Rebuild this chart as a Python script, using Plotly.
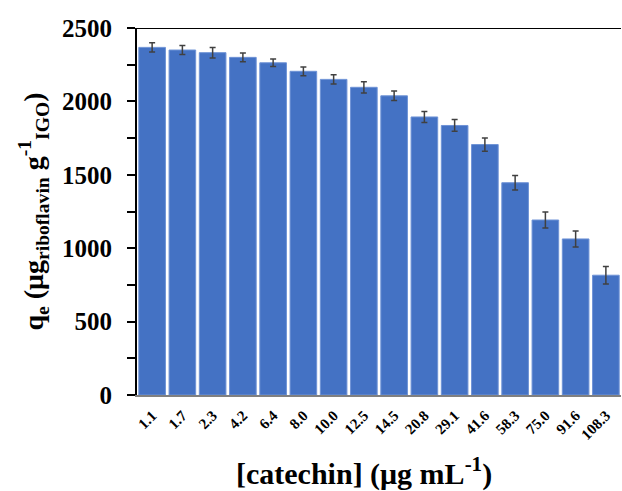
import plotly.graph_objects as go

categories = ["1.1", "1.7", "2.3", "4.2", "6.4", "8.0", "10.0", "12.5", "14.5",
              "20.8", "29.1", "41.6", "58.3", "75.0", "91.6", "108.3"]
qe_values = [2368, 2350, 2332, 2300, 2263, 2205, 2150, 2096, 2038,
             1894, 1836, 1706, 1446, 1192, 1063, 816]
qe_errors = [32, 30, 36, 30, 25, 30, 32, 38, 32, 38, 40, 45, 50, 55, 55, 60]
y_ticks = [0, 500, 1000, 1500, 2000, 2500]

FONT = "Liberation Serif"

fig = go.Figure(go.Bar(
    x=categories, y=qe_values,
    marker=dict(color="#4472C4", line=dict(color="#6F93D6", width=1)),
    error_y=dict(type="data", array=qe_errors, color="#404040", thickness=1.5, width=3),
))

fig.update_layout(
    width=622, height=491,
    margin=dict(l=137, r=1, t=28, b=96),
    plot_bgcolor="white", paper_bgcolor="white",
    bargap=0.12,
    showlegend=False,
    font=dict(family=FONT, color="black"),
)

fig.update_yaxes(
    range=[0, 2500], tickvals=y_ticks,
    ticks="outside", ticklen=8, tickwidth=2, tickcolor="black",
    minor=dict(ticks="outside", dtick=250, ticklen=8, tickwidth=2, tickcolor="black"),
    showline=True, linecolor="black", linewidth=2,
    showgrid=False, zeroline=False,
    tickfont=dict(family=FONT, size=25, weight="bold", color="black"),
    ticklabelstandoff=10,
    title=dict(text="q<sub>e</sub> (μg<sub>riboflavin</sub> g<sup>-1</sup><sub>IGO</sub>)",
               font=dict(family=FONT, size=28, weight="bold", color="black"),
               standoff=10),
)

fig.update_xaxes(
    ticks="", showline=True, linecolor="#808080", linewidth=2,
    tickangle=-45,
    tickfont=dict(family=FONT, size=15, weight="bold", color="black"),
    ticklabelstandoff=4,
    showgrid=False,
)

fig.add_shape(type="line", xref="paper", yref="y", x0=0, x1=1, y0=2500, y1=2500,
              line=dict(color="black", width=2))

fig.add_annotation(
    text="[catechin] (μg mL<sup>-1</sup>)",
    xref="paper", yref="paper", x=0.47, y=-0.15, xanchor="center", yanchor="top",
    showarrow=False,
    font=dict(family=FONT, size=30, weight="bold", color="black"),
)

fig.write_html("out.html")
